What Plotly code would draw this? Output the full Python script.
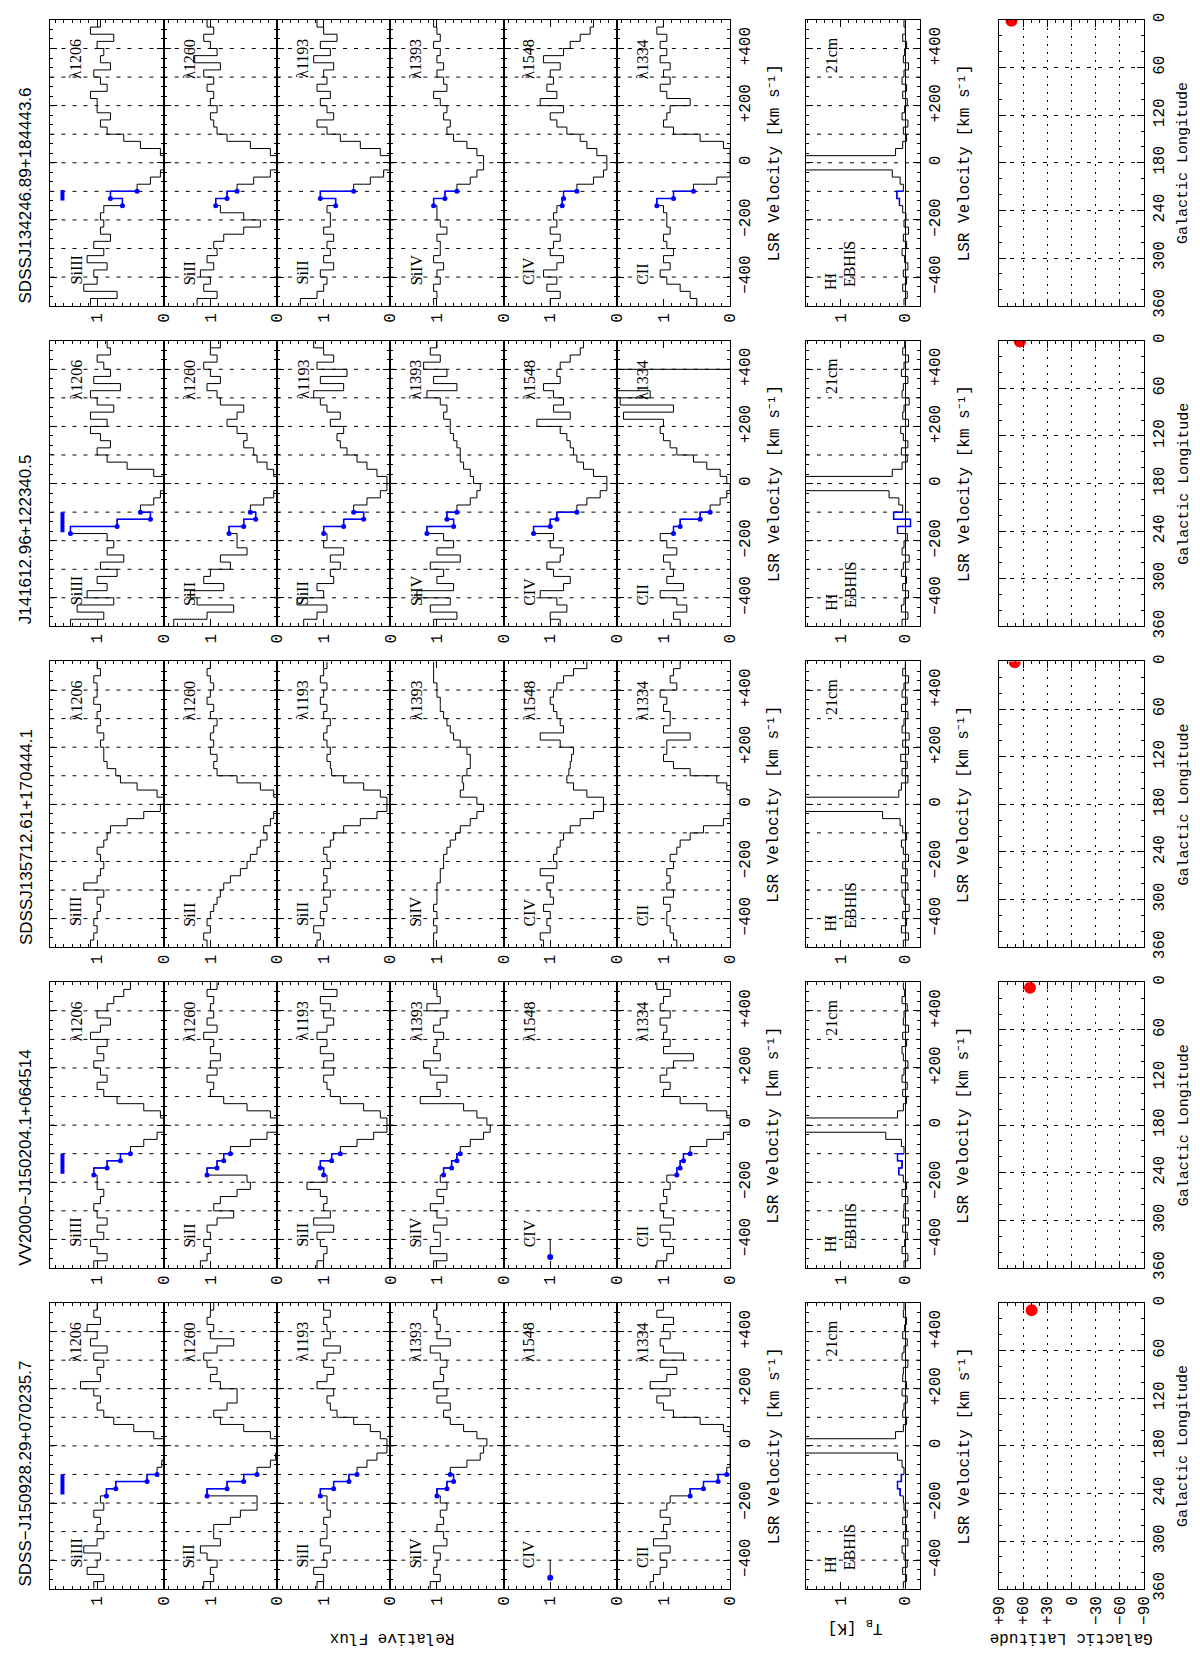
import plotly.graph_objects as go

# ---------------------------------------------------------------------------
# Data (velocity bins of 25 km/s, left edges)
# ---------------------------------------------------------------------------

VEL = [-500, -475, -450, -425, -400, -375, -350, -325, -300, -275,
       -250, -225, -200, -175, -150, -125, -100, -75, -50, -25,
       0, 25, 50, 75, 100, 125, 150, 175, 200, 225,
       250, 275, 300, 325, 350, 375, 400, 425, 450, 475]

SIGHTLINES = ["SDSSJ134246.89+184443.6", "J141612.96+122340.5",
              "SDSSJ135712.61+170444.1", "VV2000\u2212J150204.1+064514",
              "SDSS\u2212J150928.29+070235.7"]
IONS = ["SiIII", "SiII", "SiII", "SiIV", "CIV", "CII"]
WAVES = ["\u03bb1206", "\u03bb1260", "\u03bb1193", "\u03bb1393", "\u03bb1548", "\u03bb1334"]

# HVC velocity window (blue) and blue marker bar in the SiIII panel
HVC_LO = [-150, -175, None, -175, -175]
HVC_HI = [-100, -100, None, -100, -100]
BAR_LO = [-132, -170, None, -170, -170]
BAR_HI = [-95, -100, None, -100, -100]

# galactic position of each sightline
GAL_L = [1, 1, 1, 7, 9]
GAL_B = [74.5, 64, 70.5, 51.5, 49.5]

# row 1: SDSSJ134246.89+184443.6
r1_si3 = [1.1, 0.7, 1.2, 1.0, 1.05, 0.85, 1.15, 0.9, 1.05, 0.8, 0.95, 0.9, 0.95, 0.9, 0.62, 0.8,
          0.4, 0.2, 0.05, 0.0, 0.0, 0.05, 0.35, 0.6, 0.85, 0.95, 0.8, 1.0, 1.0, 1.1, 0.85, 0.95,
          1.05, 0.8, 0.95, 0.9, 1.0, 0.75, 1.1, 0.95]
r1_si2a = [1.2, 0.9, 1.1, 1.0, 1.15, 0.95, 1.05, 0.9, 0.95, 0.8, 0.5, 0.25, 0.5, 0.85, 0.92, 0.75,
           0.6, 0.35, 0.1, 0.0, 0.0, 0.1, 0.4, 0.75, 0.9, 0.95, 1.0, 0.9, 1.0, 0.95, 1.05, 0.95,
           1.1, 0.85, 1.25, 0.9, 1.0, 1.1, 0.95, 1.05]
r1_si2b = [1.35, 1.1, 1.0, 0.95, 1.05, 0.85, 1.0, 0.9, 0.95, 0.85, 1.0, 0.9, 0.9, 0.95, 0.82, 1.05,
           0.55, 0.3, 0.1, 0.0, 0.0, 0.15, 0.45, 0.75, 0.95, 1.1, 0.85, 0.95, 1.05, 0.9, 1.1, 0.95,
           1.0, 0.85, 1.15, 0.9, 1.05, 0.8, 1.0, 1.1]
r1_si4 = [1.05, 1.0, 1.05, 0.95, 1.0, 0.9, 1.05, 0.95, 0.95, 1.0, 0.85, 0.95, 1.0, 1.0, 1.05, 0.88,
          0.7, 0.5, 0.4, 0.3, 0.3, 0.4, 0.55, 0.75, 0.85, 0.8, 0.9, 0.85, 0.95, 1.05, 0.85, 0.9,
          1.0, 0.9, 1.0, 0.95, 1.05, 0.95, 1.0, 1.05]
r1_c4 = [1.0, 0.85, 1.05, 0.9, 1.1, 0.9, 0.8, 1.0, 0.95, 0.85, 1.0, 0.9, 0.95, 0.9, 0.82, 0.8,
         0.6, 0.35, 0.2, 0.15, 0.15, 0.3, 0.45, 0.55, 0.75, 0.9, 1.0, 0.8, 1.15, 0.9, 1.05, 0.95,
         1.0, 0.85, 1.1, 0.8, 0.7, 0.55, 0.4, 0.35]
r1_c2 = [0.5, 0.6, 0.75, 0.95, 1.05, 0.9, 1.0, 0.85, 0.95, 1.0, 0.9, 0.95, 0.95, 1.0, 1.1, 0.85,
         0.55, 0.2, 0.0, 0.0, 0.0, 0.0, 0.1, 0.45, 0.85, 1.0, 0.95, 0.9, 0.6, 0.95, 1.05, 0.9,
         1.0, 0.9, 1.05, 0.95, 1.05, 0.95, 1.1, 1.0]

# row 2: J141612.96+122340.5
r2_si3 = [1.4, 0.9, 1.3, 0.75, 1.15, 0.85, 1.0, 0.7, 0.95, 0.6, 0.85, 0.75, 0.85, 1.4, 0.7, 0.2,
          0.35, 0.15, 0.05, 0.0, 0.0, 0.15, 0.55, 0.85, 1.0, 0.8, 0.95, 1.1, 0.85, 1.1, 0.75, 1.0,
          1.1, 0.65, 1.05, 0.8, 0.9, 1.0, 0.8, 0.85]
r2_si2a = [1.55, 1.05, 0.65, 1.2, 1.3, 0.8, 1.1, 1.0, 0.7, 0.85, 0.45, 0.6, 0.6, 0.72, 0.5, 0.32,
           0.4, 0.2, 0.05, 0.0, 0.0, 0.05, 0.15, 0.3, 0.35, 0.5, 0.45, 0.6, 0.75, 0.6, 0.5, 0.85,
           0.9, 1.05, 0.85, 1.0, 1.1, 0.9, 1.0, 0.85]
r2_si2b = [1.3, 1.1, 0.95, 1.4, 1.0, 1.1, 0.85, 0.9, 0.75, 0.9, 0.7, 1.0, 0.95, 1.0, 0.7, 0.4,
           0.55, 0.35, 0.15, 0.05, 0.05, 0.2, 0.35, 0.5, 0.65, 0.75, 0.8, 0.7, 0.9, 0.75, 0.95, 1.05,
           1.15, 0.7, 1.05, 0.65, 1.1, 0.85, 1.0, 1.15]
r2_si4 = [1.05, 0.7, 1.1, 0.8, 1.3, 0.75, 1.0, 0.9, 1.1, 0.65, 1.0, 0.75, 0.9, 1.15, 0.75, 0.85,
          0.7, 0.5, 0.4, 0.35, 0.45, 0.5, 0.6, 0.65, 0.65, 0.7, 0.75, 0.8, 0.8, 0.9, 0.85, 0.95,
          1.15, 0.7, 1.05, 0.85, 1.2, 0.95, 1.1, 1.0]
r2_c4 = [0.85, 1.0, 0.75, 0.9, 1.15, 0.8, 0.7, 0.95, 1.05, 0.85, 0.8, 1.0, 0.95, 1.25, 1.0, 0.9,
         0.6, 0.45, 0.25, 0.15, 0.15, 0.35, 0.5, 0.6, 0.65, 0.7, 0.75, 0.85, 1.2, 0.7, 0.95, 0.8,
         0.95, 1.1, 0.85, 0.9, 0.85, 0.7, 0.55, 0.5]
r2_c2 = [0.75, 0.85, 0.65, 0.8, 1.05, 0.7, 0.95, 0.85, 0.9, 1.0, 0.8, 0.95, 1.05, 0.85, 0.75, 0.45,
         0.3, 0.15, 0.05, 0.0, 0.05, 0.15, 0.35, 0.55, 0.8, 0.9, 1.0, 1.05, 1.0, 1.6, 0.85, 1.65,
         1.2, 3.0, 3.0, 3.0, -0.5, -0.5, -0.5, -0.5]

# row 3: SDSSJ135712.61+170444.1
r3_si3 = [1.1, 1.05, 1.0, 1.05, 1.0, 0.95, 1.0, 0.9, 1.2, 1.0, 0.95, 0.9, 0.95, 1.0, 0.9, 0.85,
          0.8, 0.55, 0.3, 0.05, 0.0, 0.1, 0.4, 0.65, 0.72, 0.85, 0.9, 0.9, 0.95, 0.9, 1.0, 0.95,
          1.0, 0.95, 1.05, 1.0, 1.0, 1.05, 0.95, 1.0]
r3_si2a = [1.05, 1.1, 1.0, 1.05, 1.0, 0.95, 0.9, 0.85, 0.8, 0.7, 0.55, 0.45, 0.4, 0.3, 0.25, 0.15,
           0.2, 0.1, 0.05, 0.0, 0.0, 0.05, 0.25, 0.6, 0.9, 0.95, 0.9, 1.0, 0.95, 1.0, 0.95, 0.9,
           1.0, 0.95, 1.05, 1.0, 0.95, 1.0, 1.05, 1.0]
r3_si2b = [1.1, 1.05, 1.15, 1.0, 1.05, 0.95, 1.0, 0.9, 1.0, 0.95, 1.0, 0.9, 0.95, 1.0, 0.9, 0.85,
           0.7, 0.45, 0.2, 0.05, 0.05, 0.15, 0.4, 0.7, 0.88, 0.9, 0.95, 0.9, 0.95, 1.0, 0.95, 0.9,
           1.0, 0.95, 1.05, 1.0, 0.95, 1.05, 1.0, 0.95]
r3_si4 = [1.05, 1.05, 1.0, 1.05, 1.0, 1.05, 1.0, 1.0, 1.0, 0.95, 0.95, 0.9, 0.9, 0.85, 0.8, 0.72,
          0.65, 0.5, 0.4, 0.3, 0.4, 0.65, 0.6, 0.62, 0.55, 0.5, 0.5, 0.55, 0.65, 0.75, 0.8, 0.85,
          0.9, 0.95, 0.95, 1.0, 1.0, 1.05, 1.05, 1.05]
r3_c4 = [1.1, 1.15, 1.0, 1.05, 1.0, 1.1, 0.95, 1.0, 1.05, 0.95, 1.15, 0.9, 0.95, 0.9, 0.85, 0.8,
         0.7, 0.55, 0.35, 0.2, 0.2, 0.45, 0.65, 0.75, 0.72, 0.7, 0.68, 0.65, 0.85, 1.15, 0.8, 0.85,
         0.9, 0.95, 1.0, 0.95, 0.9, 0.8, 0.65, 0.45]
r3_c2 = [0.8, 0.85, 0.9, 0.95, 0.95, 0.9, 1.0, 0.85, 0.95, 0.9, 0.95, 0.85, 0.9, 0.8, 0.75, 0.6,
         0.4, 0.1, 0.0, 0.0, 0.0, 0.0, 0.05, 0.2, 0.6, 0.85, 1.0, 0.95, 0.95, 0.6, 1.0, 0.9,
         0.9, 1.0, 0.95, 1.05, 0.8, 0.9, 0.85, 0.75]

# row 4: VV2000-J150204.1+064514 (no CIV data)
r4_si3 = [1.05, 0.85, 1.0, 1.1, 0.9, 1.0, 0.85, 1.0, 1.05, 0.95, 0.9, 1.0, 1.0, 1.05, 0.85, 0.65,
          0.5, 0.3, 0.1, 0.0, 0.0, 0.05, 0.3, 0.7, 0.9, 1.0, 0.85, 0.95, 1.05, 0.9, 1.0, 0.85,
          1.1, 0.95, 0.8, 1.0, 0.85, 0.75, 0.6, 0.5]
r4_si2a = [1.15, 1.05, 1.0, 1.1, 1.0, 1.05, 0.9, 0.65, 0.95, 0.85, 0.6, 0.4, 0.45, 1.05, 0.9, 0.8,
           0.7, 0.4, 0.15, 0.0, 0.0, 0.1, 0.45, 0.8, 1.0, 0.95, 1.05, 0.9, 1.0, 0.85, 1.0, 0.95,
           1.1, 0.9, 1.05, 0.95, 1.0, 0.95, 1.05, 0.9]
r4_si2b = [1.1, 1.0, 0.95, 1.05, 1.1, 0.85, 1.15, 0.9, 1.0, 0.95, 1.05, 1.25, 0.95, 1.0, 1.05, 0.88,
           0.75, 0.5, 0.25, 0.05, 0.05, 0.15, 0.4, 0.75, 0.9, 0.95, 1.0, 0.85, 1.0, 0.85, 1.05, 0.95,
           1.1, 0.95, 0.85, 1.0, 0.9, 1.05, 0.8, 1.0]
r4_si4 = [1.05, 0.85, 1.1, 0.95, 0.95, 1.05, 0.85, 1.0, 1.1, 0.9, 1.0, 0.85, 0.95, 0.9, 0.78, 0.7,
          0.65, 0.5, 0.3, 0.2, 0.25, 0.4, 0.6, 1.25, 0.95, 1.0, 0.85, 1.1, 1.2, 0.95, 1.05, 1.0,
          0.9, 1.05, 0.95, 0.85, 1.15, 0.95, 1.0, 1.05]
r4_c2 = [1.1, 0.95, 0.85, 1.0, 0.9, 1.05, 0.85, 1.0, 1.05, 0.95, 1.0, 0.9, 0.95, 0.8, 0.75, 0.7,
         0.6, 0.35, 0.1, 0.0, 0.0, 0.05, 0.35, 0.75, 1.0, 0.9, 1.05, 0.95, 0.85, 0.55, 1.0, 0.9,
         1.0, 0.95, 1.05, 0.9, 1.05, 1.0, 0.9, 1.1]

# row 5: SDSS-J150928.29+070235.7 (no CIV data)
r5_si3 = [1.05, 0.9, 1.15, 1.0, 0.95, 1.2, 1.0, 0.9, 1.0, 0.95, 1.05, 0.9, 0.95, 0.86, 0.72, 0.25,
          0.1, 0.03, 0.0, 0.0, 0.0, 0.15, 0.45, 0.75, 0.9, 1.0, 0.95, 1.05, 1.25, 0.95, 1.0, 0.9,
          1.05, 0.85, 1.1, 1.0, 1.15, 0.95, 1.05, 1.0]
r5_si2a = [1.1, 0.95, 1.0, 0.9, 1.05, 1.15, 0.85, 0.95, 0.95, 0.7, 0.55, 0.3, 0.3, 1.05, 0.75, 0.5,
           0.3, 0.1, 0.02, 0.0, 0.0, 0.1, 0.5, 0.85, 0.95, 0.75, 0.6, 0.6, 0.85, 1.0, 0.9, 1.05,
           1.1, 0.9, 0.65, 1.0, 0.95, 1.05, 1.0, 0.95]
r5_si2b = [1.1, 1.0, 1.15, 0.95, 1.0, 0.9, 1.05, 0.95, 0.95, 1.0, 0.9, 0.95, 0.95, 1.05, 0.85, 0.62,
           0.5, 0.35, 0.2, 0.05, 0.05, 0.15, 0.3, 0.55, 0.8, 0.9, 0.95, 0.85, 1.1, 0.95, 0.85, 1.0,
           0.95, 0.75, 1.0, 0.9, 0.95, 1.0, 0.9, 1.0]
r5_si4 = [1.1, 0.95, 1.05, 1.0, 0.95, 1.05, 0.85, 0.9, 1.0, 0.9, 0.95, 0.85, 0.95, 1.0, 0.85, 0.75,
          0.8, 0.55, 0.35, 0.3, 0.25, 0.4, 0.6, 0.8, 0.9, 0.8, 1.0, 0.85, 1.05, 0.9, 0.95, 0.85,
          0.95, 1.1, 0.8, 1.0, 0.95, 1.0, 1.05, 1.0]
r5_c2 = [1.2, 1.15, 1.05, 0.95, 1.05, 0.9, 1.15, 0.95, 1.0, 0.9, 1.05, 0.95, 0.9, 0.6, 0.4, 0.18,
         0.05, 0.0, 0.0, 0.0, 0.0, 0.0, 0.1, 0.45, 0.85, 1.0, 1.1, 0.9, 1.2, 0.95, 0.8, 1.05,
         0.7, 1.0, 1.05, 0.9, 1.0, 0.85, 1.1, 1.0]

# EBHIS 21cm brightness temperature [K]
r1_hi = [0.02, -0.03, 0.04, -0.02, 0.03, -0.04, 0.01, 0.05, -0.02, 0.03, -0.05, 0.02, -0.01, 0.04, 0.09, 0.13,
         0.03, 0.08, 0.2, 12.0, 6.0, 0.15, 0.04, -0.02, 0.03, -0.04, 0.05, 0.01, -0.03, 0.04, -0.02, 0.05,
         0.02, -0.05, 0.03, 0.01, -0.02, 0.04, 0.0, 0.02]
r2_hi = [0.05, -0.04, 0.06, 0.02, -0.05, 0.04, -0.02, 0.06, 0.03, -0.06, 0.05, 0.02, -0.03, 0.12, -0.08, 0.18,
         0.04, 0.1, 0.25, 14.0, 5.0, 0.2, 0.05, -0.03, 0.06, -0.04, 0.03, 0.07, -0.05, 0.04, 0.02, -0.06,
         0.05, 0.03, -0.04, 0.06, 0.02, -0.05, 0.04, 0.01]
r3_hi = [0.03, -0.05, 0.06, -0.02, 0.04, -0.06, 0.02, 0.05, -0.04, 0.06, -0.03, 0.04, -0.05, 0.03, 0.06, -0.02,
         0.04, 0.08, 0.35, 15.0, 4.0, 0.1, 0.06, -0.04, 0.05, -0.03, 0.07, -0.05, 0.04, -0.06, 0.05, 0.02,
         -0.04, 0.06, -0.03, 0.05, 0.02, -0.05, 0.04, 0.0]
r4_hi = [0.02, -0.04, 0.05, 0.01, -0.03, 0.04, -0.05, 0.03, 0.02, -0.04, 0.05, -0.02, 0.03, 0.1, 0.05, 0.12,
         0.02, 0.06, 0.3, 13.0, 6.0, 0.12, 0.03, -0.02, 0.04, -0.03, 0.05, 0.02, -0.04, 0.03, 0.05, -0.02,
         0.04, -0.05, 0.03, 0.02, -0.03, 0.05, 0.01, 0.03]
r5_hi = [0.03, -0.02, 0.04, -0.03, 0.02, 0.05, -0.04, 0.03, -0.02, 0.04, -0.03, 0.02, 0.03, 0.08, 0.12, 0.06,
         0.02, 0.05, 0.12, 12.0, 7.0, 0.15, 0.03, -0.02, 0.04, 0.02, -0.03, 0.05, -0.02, 0.04, 0.03, -0.04,
         0.05, 0.02, -0.03, 0.04, 0.01, -0.02, 0.03, 0.02]

ABS = [
    [r1_si3, r1_si2a, r1_si2b, r1_si4, r1_c4, r1_c2],
    [r2_si3, r2_si2a, r2_si2b, r2_si4, r2_c4, r2_c2],
    [r3_si3, r3_si2a, r3_si2b, r3_si4, r3_c4, r3_c2],
    [r4_si3, r4_si2a, r4_si2b, r4_si4, None, r4_c2],
    [r5_si3, r5_si2a, r5_si2b, r5_si4, None, r5_c2],
]
HI = [r1_hi, r2_hi, r3_hi, r4_hi, r5_hi]

# stub drawn in the empty CIV panels
CIV_STUB_V = [-400, -462]
CIV_STUB_F = [1.0, 1.0]

# ---------------------------------------------------------------------------
# Geometry / style (pixels of the 1200x1655 page)
# ---------------------------------------------------------------------------

W, H = 1200, 1655
ROW_TOP = [5, 329.5, 654, 978.5, 1303]
ROW_H = 289
PANEL_X0, PANEL_W = 35, 115
HI_X = (802, 918)
MAP_X = (998, 1145)
BAR_F = 1.52

MONO = "Liberation Mono"
SERIF = "Liberation Serif"
SANS = "Liberation Sans"
TICKFONT = dict(family=MONO, size=16, color="black")
BLUE = "#0000ff"
DASH = "4px,7px"
VEL_LABEL = "LSR Velocity [km s\u207b\u00b9]"

AX = dict(showline=True, linecolor="black", linewidth=1, mirror="allticks",
          ticks="inside", tickcolor="black", ticklen=7, tickwidth=1,
          zeroline=False, showgrid=False, fixedrange=True)

VEL_GRID = [-400, -300, -200, -100, 0, 100, 200, 300, 400]
VEL_LABELED = [-400, -200, 0, 200, 400]
VEL_TEXT = ["\u2212400", "\u2212200", "0", "+200", "+400"]
VEL_MINOR = [i * 100 / 3 for i in range(-15, 16)]
FLUX_MINOR = [i * 0.125 for i in range(0, 14)]

layout = {}
annotations = []
shapes = []
traces = []
counter = [0]


def add_axes(x0, x1, top, xcfg, ycfg):
    counter[0] += 1
    n = counter[0]
    sx = "" if n == 1 else str(n)
    layout["xaxis" + sx] = {**AX, **xcfg, "domain": [x0 / W, x1 / W], "anchor": "y" + sx}
    layout["yaxis" + sx] = {**AX, **ycfg, "domain": [1 - (top + ROW_H) / H, 1 - top / H],
                            "anchor": "x" + sx}
    return "x" + sx, "y" + sx


def vel_axis(labels):
    cfg = dict(range=[-500, 500], tickmode="array", tickvals=VEL_LABELED,
               minor=dict(ticks="inside", ticklen=3, tickcolor="black",
                          tickmode="array", tickvals=VEL_MINOR, showgrid=False))
    if labels:
        cfg.update(side="right", showticklabels=True, ticktext=VEL_TEXT,
                   tickangle=-90, tickfont=TICKFONT)
    else:
        cfg.update(showticklabels=False)
    return cfg


def vel_grid(xa, ya):
    for v in VEL_GRID:
        shapes.append(dict(type="line", xref=xa + " domain", yref=ya, x0=0, x1=1, y0=v, y1=v,
                           line=dict(color="black", width=1, dash=DASH), layer="below"))


def flux_axis(rng):
    return dict(range=rng, tickmode="array", tickvals=[0, 1], ticktext=["0", "1"],
                tickangle=-90, tickfont=TICKFONT,
                minor=dict(ticks="inside", ticklen=3, tickcolor="black",
                           tickmode="array", tickvals=FLUX_MINOR))


def step_trace(vals, xa, ya, color="black"):
    xs = list(vals) + [vals[-1]]
    ys = VEL + [500]
    return go.Scatter(x=xs, y=ys, xaxis=xa, yaxis=ya, mode="lines",
                      line=dict(color=color, width=1, shape="vh"), hoverinfo="skip")


def hvc_trace(vals, lo, hi, xa, ya, markers=True):
    idx = [i for i, v in enumerate(VEL) if lo <= v < hi]
    idx = idx + [idx[-1] + 1]
    return go.Scatter(x=[vals[i] for i in idx], y=[VEL[i] for i in idx], xaxis=xa, yaxis=ya,
                      mode="lines+markers" if markers else "lines",
                      line=dict(color=BLUE, width=1.5, shape="vh"),
                      marker=dict(color=BLUE, size=5), hoverinfo="skip")


def note(x, y, text, size=16, family=SERIF, angle=-90, xanchor="center", yanchor="middle"):
    annotations.append(dict(x=x / W, y=1 - y / H, xref="paper", yref="paper", text=text,
                            showarrow=False, textangle=angle, xanchor=xanchor, yanchor=yanchor,
                            font=dict(family=family, size=size, color="black")))


for r in range(5):
    top = ROW_TOP[r]
    bot = top + ROW_H
    mid = top + ROW_H / 2

    note(10, bot, SIGHTLINES[r], size=17, family=SANS, yanchor="bottom")

    # absorption panels
    for k in range(6):
        x0 = PANEL_X0 + PANEL_W * k
        xa, ya = add_axes(x0, x0 + PANEL_W, top, flux_axis([1.7, 0]), vel_axis(k == 5))
        vel_grid(xa, ya)
        vals = ABS[r][k]
        if vals is not None:
            traces.append(step_trace(vals, xa, ya))
            if HVC_LO[r] is not None:
                traces.append(hvc_trace(vals, HVC_LO[r], HVC_HI[r], xa, ya))
        else:
            traces.append(go.Scatter(x=CIV_STUB_F, y=CIV_STUB_V, xaxis=xa, yaxis=ya, mode="lines",
                                     line=dict(color="black", width=1), hoverinfo="skip"))
            traces.append(go.Scatter(x=CIV_STUB_F[1:], y=CIV_STUB_V[1:], xaxis=xa, yaxis=ya,
                                     mode="markers", marker=dict(color=BLUE, size=6),
                                     hoverinfo="skip"))
        if k == 0 and BAR_LO[r] is not None:
            traces.append(go.Scatter(x=[BAR_F, BAR_F], y=[BAR_LO[r], BAR_HI[r]], xaxis=xa, yaxis=ya,
                                     mode="lines", line=dict(color=BLUE, width=4),
                                     hoverinfo="skip"))
        note(x0 + 26, bot - 19, IONS[k], yanchor="bottom")
        note(x0 + 26, top + 17, WAVES[k], yanchor="top")

    note(770, mid, VEL_LABEL, family=MONO)

    # HI 21cm panel
    hx = flux_axis([1.53, -0.23])
    hx.update(zeroline=True, zerolinecolor="black", zerolinewidth=1)
    xa, ya = add_axes(HI_X[0], HI_X[1], top, hx, vel_axis(True))
    vel_grid(xa, ya)
    traces.append(step_trace(HI[r], xa, ya))
    if HVC_LO[r] is not None:
        traces.append(hvc_trace(HI[r], HVC_LO[r], HVC_HI[r], xa, ya, markers=False))
    note(827, bot - 14, "HI", yanchor="bottom")
    note(847, bot - 17, "EBHIS", yanchor="bottom")
    note(828, top + 16, "21cm", yanchor="top")
    note(963, mid, VEL_LABEL, family=MONO)

    # galactic position map
    mx = dict(range=[90, -90], tickmode="array", tickvals=[90, 60, 30, 0, -30, -60, -90],
              ticktext=["+90", "+60", "+30", "0", "\u221230", "\u221260", "\u221290"],
              tickangle=-90, tickfont=TICKFONT, showticklabels=(r == 4),
              showgrid=True, gridcolor="black", gridwidth=1, griddash="2px,6px",
              minor=dict(ticks="inside", ticklen=3, tickcolor="black", dtick=10, showgrid=False))
    my = dict(range=[360, 0], tickmode="array", tickvals=[0, 60, 120, 180, 240, 300, 360],
              ticktext=["0", "60", "120", "180", "240", "300", "360"],
              side="right", tickangle=-90, tickfont=TICKFONT,
              showgrid=True, gridcolor="black", gridwidth=1, griddash=DASH,
              minor=dict(ticks="inside", ticklen=3, tickcolor="black", dtick=20, showgrid=False))
    xa, ya = add_axes(MAP_X[0], MAP_X[1], top, mx, my)
    traces.append(go.Scatter(x=[GAL_B[r]], y=[GAL_L[r]], xaxis=xa, yaxis=ya, mode="markers",
                             marker=dict(color="red", size=12), hoverinfo="skip"))
    note(1186, mid, "Galactic Longitude", size=15, family=MONO)

note(382, 1642, "Relative Flux", family=MONO, angle=180)
note(852, 1631, "T<sub>B</sub> [K]", family=MONO, angle=180)
note(1071, 1642, "Galactic Latitude", family=MONO, angle=180)

fig = go.Figure(data=traces)
fig.update_layout(width=W, height=H, margin=dict(l=0, r=0, t=0, b=0),
                  paper_bgcolor="white", plot_bgcolor="white", showlegend=False,
                  annotations=annotations, shapes=shapes, **layout)
fig.write_html("out.html")
